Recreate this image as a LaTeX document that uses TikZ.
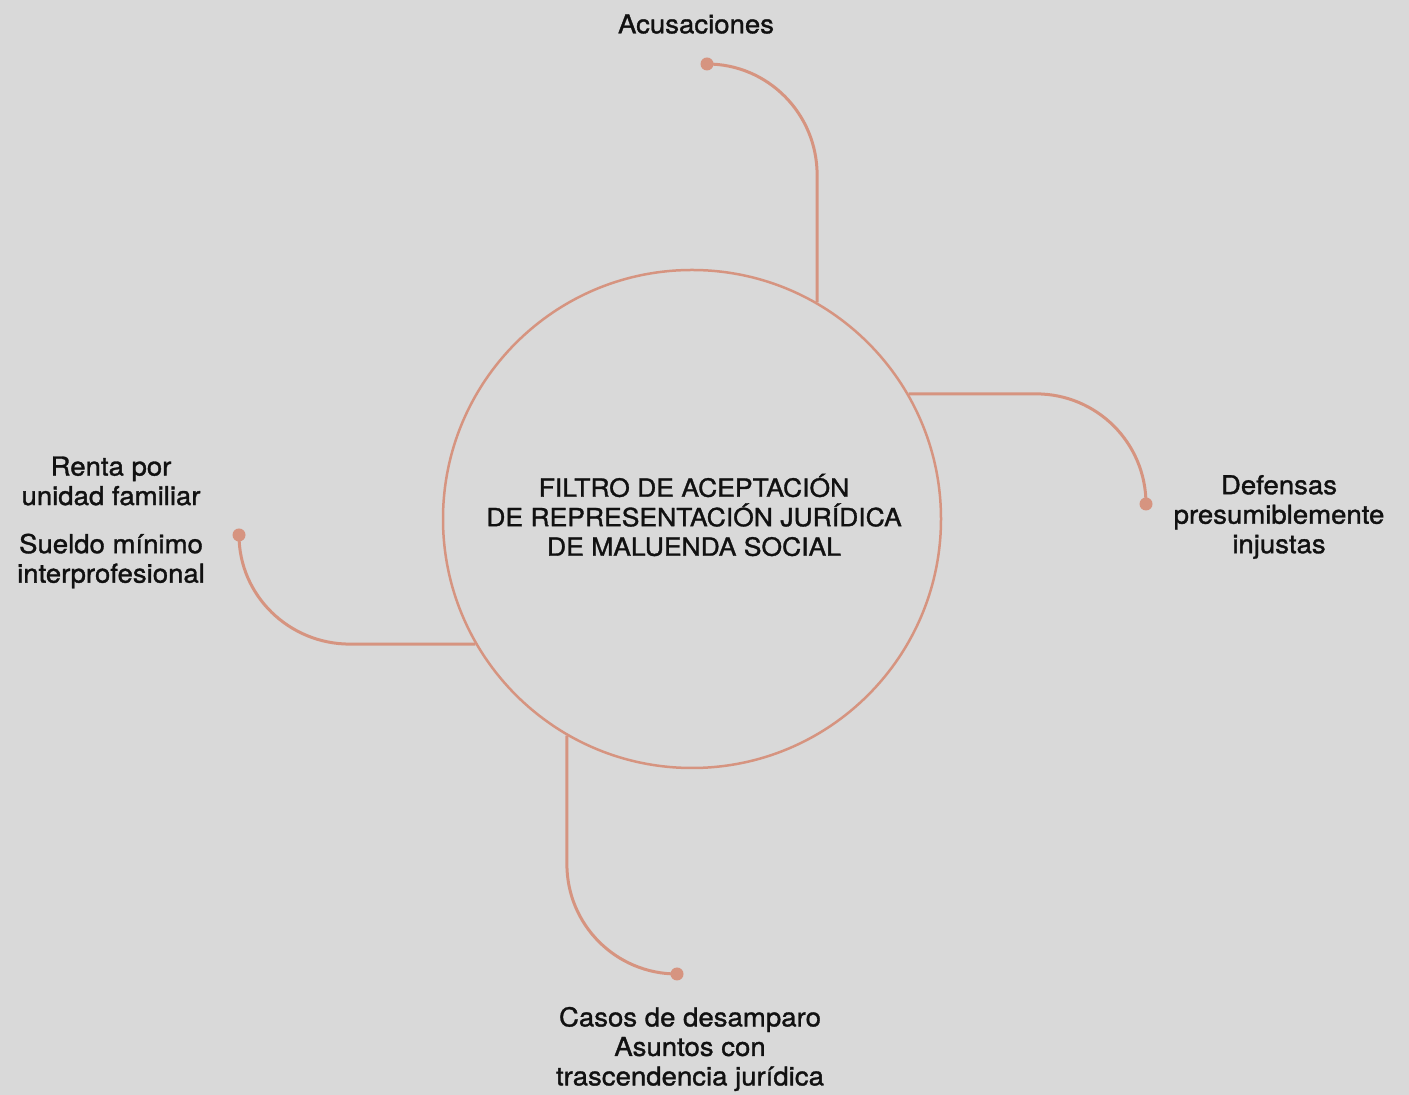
\documentclass[tikz,border=0pt]{standalone}
\usepackage{fontspec}
\setmainfont{TeX Gyre Heros}[FakeBold=1.3, FakeStretch=1.06]
\definecolor{bgGray}{RGB}{217,217,217}
\definecolor{linkSalmon}{RGB}{214,148,128}
\definecolor{textDark}{RGB}{17,17,17}
\begin{document}
\begin{tikzpicture}[x=1pt, y=1pt,
    link/.style={linkSalmon, line width=3pt},
    label/.style={align=center, text=textDark, inner sep=0pt,
        font=\fontsize{26}{29.5}\selectfont}]
    % Background
    \fill[bgGray] (0,0) rectangle (1409,1095);
    \useasboundingbox (0,0) rectangle (1409,1095);

    % --- Central circle ---
    \node[circle, draw=linkSalmon, line width=2.5pt, minimum size=498pt,
        inner sep=0pt] (filtro) at (692,576) {};
    \node[label, font=\fontsize{25}{29.5}\selectfont] (titulo) at (694,580)
        {FILTRO DE ACEPTACIÓN\\DE REPRESENTACIÓN JURÍDICA\\DE MALUENDA SOCIAL};

    % --- End dots ---
    \coordinate (acDot) at (707,1031);
    \coordinate (defDot) at (1146,591);
    \coordinate (casDot) at (677,121);
    \coordinate (renDot) at (239,560);
    \foreach \d in {acDot, defDot, casDot, renDot}
        \fill[linkSalmon] (\d) circle (6.5pt);

    % --- Connectors ---
    \draw[link] (filtro.60) -- (filtro.60 |- 0,920) to[out=90, in=0] (acDot);
    \draw[link] (filtro.30) -- (1036,0 |- filtro.30) to[out=0, in=90] (defDot);
    \draw[link] (filtro.240) -- (filtro.240 |- 0,231) to[out=270, in=180] (casDot);
    \draw[link] (filtro.210) -- (350,0 |- filtro.210) to[out=180, in=270] (renDot);

    % --- Labels ---
    \node[label] (acusaciones) at (696,1071) {Acusaciones};
    \node[label] (defensas) at (1279,578) {Defensas\\presumiblemente\\injustas};
    \node[label] (renta) at (111,614) {Renta por\\unidad familiar};
    \node[label] (sueldo) at (111,534) {Sueldo mínimo\\interprofesional};
    \node[label] (casos) at (690,46) {Casos de desamparo\\Asuntos con\\trascendencia jurídica};
\end{tikzpicture}
\end{document}
